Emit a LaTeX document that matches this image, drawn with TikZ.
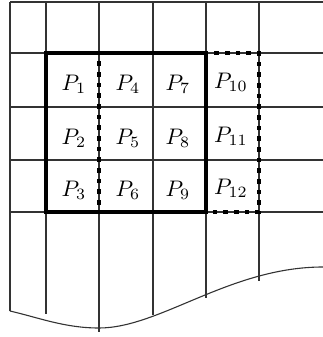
\documentclass[tikz,border=0pt]{standalone}
\usepackage{amsmath}
\newcommand{\plab}[1]{\scalebox{2.25}{$P_{#1}$}}
\begin{document}
\begin{tikzpicture}[x=1pt,y=-1pt,
  gridline/.style={line width=1.1pt,draw=black!80},
  thickbox/.style={line width=4.5pt,draw=black,line join=miter},
  dotbox/.style={line width=4.5pt,draw=black,dash pattern=on 4.5pt off 6.17pt,dash phase=2.25pt},
  lab/.style={anchor=base,inner sep=0pt}]
\useasboundingbox (0,0) rectangle (323,337);
% horizontal grid lines
\foreach \y in {2,53,107,160,212}
  \draw[gridline] (10,\y) -- (323,\y);
% vertical grid lines
\draw[gridline] (10,2) -- (10,311);
\draw[gridline] (46,2) -- (46,314);
\draw[gridline] (99,2) -- (99,332);
\draw[gridline] (153,2) -- (153,315);
\draw[gridline] (206,2) -- (206,298);
\draw[gridline] (259,2) -- (259,281);
% bottom curve
\draw[gridline] (10,311) .. controls (40,318) and (65,328) .. (99,328)
  .. controls (160,328) and (230,267) .. (323,267);
% dotted box
\draw[dotbox] (99,53) -- (99,212);
\draw[dotbox] (206,53) -- (259,53) -- (259,212) -- (206,212);
% solid box
\draw[thickbox] (46,53) rectangle (206,212);
% labels
\node[lab] (p1) at (74,90.5) {\plab{1}};
\node[lab] (p2) at (74,144.5) {\plab{2}};
\node[lab] (p3) at (74,196) {\plab{3}};
\node[lab] (p4) at (128,90.5) {\plab{4}};
\node[lab] (p5) at (128,144.5) {\plab{5}};
\node[lab] (p6) at (128,196) {\plab{6}};
\node[lab] (p7) at (178,90.5) {\plab{7}};
\node[lab] (p8) at (178,144.5) {\plab{8}};
\node[lab] (p9) at (178,196) {\plab{9}};
\node[lab] (p10) at (231,88) {\plab{10}};
\node[lab] (p11) at (231,142) {\plab{11}};
\node[lab] (p12) at (231,194) {\plab{12}};
\end{tikzpicture}
\end{document}
